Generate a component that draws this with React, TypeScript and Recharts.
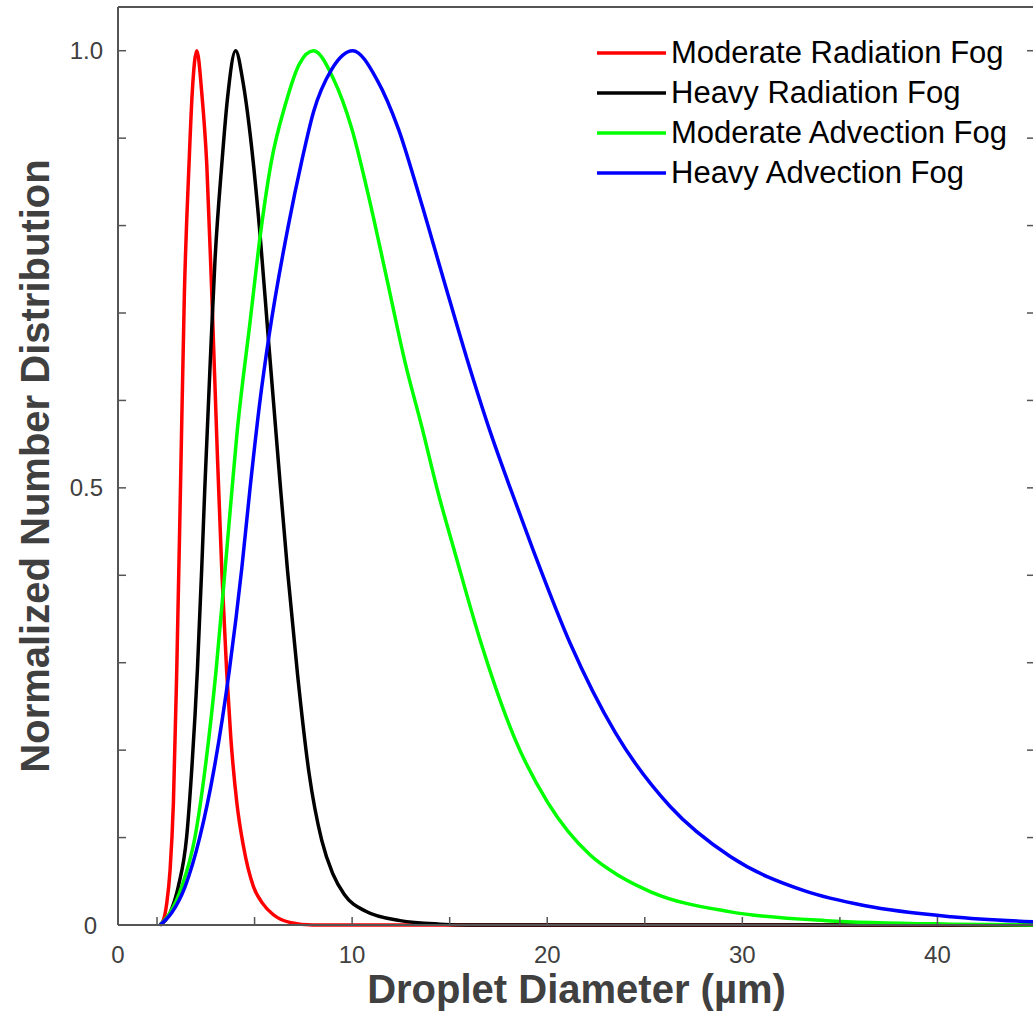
import React from 'react';
import { LineChart, Line, XAxis, YAxis } from 'recharts';

const FONT = '"Liberation Sans", Arial, Helvetica, sans-serif';
const AXIS = '#555555';
const TEXT = '#404040';

// [diameter (µm), normalized number]
const moderateRadiation: [number, number][] = [
  [0.15, 0], [0.3, 0.004], [0.5, 0.025], [0.67, 0.063], [0.84, 0.14], [1.01, 0.29],
  [1.22, 0.52], [1.4, 0.72], [1.64, 0.87], [1.8, 0.95], [2.04, 1.0], [2.3, 0.95],
  [2.55, 0.87], [2.81, 0.72], [3.09, 0.54], [3.33, 0.4], [3.57, 0.29], [3.78, 0.215],
  [4.09, 0.14], [4.43, 0.09], [4.94, 0.044], [5.4, 0.025], [5.95, 0.012], [6.8, 0.003],
  [8, 0], [45, 0],
];

const heavyRadiation: [number, number][] = [
  [0.15, 0], [0.67, 0.014], [1.09, 0.044], [1.52, 0.101], [1.78, 0.178], [2.07, 0.292],
  [2.29, 0.407], [2.45, 0.5], [2.72, 0.64], [2.97, 0.76], [3.32, 0.87], [3.61, 0.945],
  [4.03, 1.0], [4.4, 0.965], [4.77, 0.905], [5.28, 0.79], [5.69, 0.675], [6.0, 0.59],
  [6.31, 0.505], [6.69, 0.405], [7.21, 0.285], [7.79, 0.174], [8.44, 0.097], [9.0, 0.059],
  [9.6, 0.035], [10.67, 0.016], [12.46, 0.005], [14.5, 0.001], [16, 0], [45, 0],
];

const moderateAdvection: [number, number][] = [
  [0.15, 0], [0.67, 0.014], [1.27, 0.044], [1.95, 0.101], [2.46, 0.178], [3.03, 0.292],
  [3.49, 0.407], [3.85, 0.5], [4.09, 0.56], [4.77, 0.69], [5.3, 0.79], [5.85, 0.872],
  [6.56, 0.937], [7.3, 0.985], [8.02, 1.0], [9.04, 0.968], [9.98, 0.911], [10.84, 0.834],
  [11.78, 0.739], [12.72, 0.643], [13.57, 0.57], [14.4, 0.495], [15.28, 0.425], [16.56, 0.326],
  [18.36, 0.212], [20.03, 0.14], [22.2, 0.08], [23.7, 0.056], [25.3, 0.038], [29.4, 0.015],
  [34.3, 0.005], [40.7, 0.001], [45, 0],
];

const heavyAdvection: [number, number][] = [
  [0.15, 0], [0.75, 0.014], [1.44, 0.044], [2.2, 0.101], [2.92, 0.178], [3.71, 0.292],
  [4.34, 0.407], [4.77, 0.5], [5.28, 0.6], [5.75, 0.675], [6.73, 0.8], [7.42, 0.874],
  [8.02, 0.93], [8.96, 0.979], [10.03, 1.0], [11.27, 0.967], [12.38, 0.91], [13.4, 0.837],
  [14.68, 0.739], [15.88, 0.648], [17.08, 0.564], [18.0, 0.506], [19.26, 0.43], [21.18, 0.322],
  [23.49, 0.22], [26.3, 0.1355], [29.4, 0.078], [33.2, 0.039], [36.3, 0.022], [40.7, 0.0095],
  [45, 0.0035],
];

const series = [
  { name: 'Moderate Radiation Fog', color: '#ff0000', points: moderateRadiation },
  { name: 'Heavy Radiation Fog', color: '#000000', points: heavyRadiation },
  { name: 'Moderate Advection Fog', color: '#00ff00', points: moderateAdvection },
  { name: 'Heavy Advection Fog', color: '#0000ff', points: heavyAdvection },
];

const xTicks = [-2, 0, 5, 10, 15, 20, 25, 30, 35, 40];
const xLabelAt = [-2, 10, 20, 30, 40];
const xLabelText = ['0', '10', '20', '30', '40'];
const yTicks = [0, 0.1, 0.2, 0.3, 0.4, 0.5, 0.6, 0.7, 0.8, 0.9, 1.0];
const yLabelAt = [0, 0.5, 1.0];
const yLabelText = ['0', '0.5', '1.0'];

const toRows = (pts: [number, number][]) => pts.map(([d, n]) => ({ d, n }));

function BottomTick(props: any) {
  const { x, y, payload } = props;
  const v = payload.value;
  const i = xLabelAt.indexOf(v);
  return (
    <g>
      {v >= 0 && <line x1={x} x2={x} y1={y} y2={y - 8} stroke={AXIS} strokeWidth={1.5} />}
      {i >= 0 && (
        <text x={x} y={y + 38} textAnchor="middle" fontSize={24} fill={TEXT} fontFamily={FONT}>
          {xLabelText[i]}
        </text>
      )}
    </g>
  );
}

function TopTick(props: any) {
  const { x, y, payload } = props;
  if (payload.value < 0) return <g />;
  return <line x1={x} x2={x} y1={y} y2={y + 8} stroke={AXIS} strokeWidth={1.5} />;
}

function LeftTick(props: any) {
  const { x, y, payload } = props;
  const v = payload.value;
  const i = yLabelAt.indexOf(v);
  return (
    <g>
      {v > 0 && <line x1={x} x2={x + 8} y1={y} y2={y} stroke={AXIS} strokeWidth={1.5} />}
      {i >= 0 && (
        <text
          x={v === 0 ? x - 21 : x - 15}
          y={y + 8.5}
          textAnchor="end"
          fontSize={24}
          fill={TEXT}
          fontFamily={FONT}
        >
          {yLabelText[i]}
        </text>
      )}
    </g>
  );
}

function RightTick(props: any) {
  const { x, y, payload } = props;
  if (payload.value <= 0) return <g />;
  return <line x1={x} x2={x - 8} y1={y} y2={y} stroke={AXIS} strokeWidth={1.5} />;
}

function XTitle(props: any) {
  const vb = props.viewBox || { x: 118, y: 925, width: 917, height: 88 };
  const cx = vb.x + vb.width / 2;
  return (
    <text x={cx} y={1003} textAnchor="middle" fontSize={40} fontWeight="bold" fill={TEXT} fontFamily={FONT}>
      Droplet Diameter (µm)
    </text>
  );
}

function YTitle(props: any) {
  const vb = props.viewBox || { x: 0, y: 7, width: 118, height: 918 };
  const cy = vb.y + vb.height / 2;
  const cx = 49;
  return (
    <text
      x={cx}
      y={cy}
      transform={`rotate(-90 ${cx} ${cy})`}
      textAnchor="middle"
      fontSize={40}
      fontWeight="bold"
      fill={TEXT}
      fontFamily={FONT}
    >
      Normalized Number Distribution
    </text>
  );
}

function FogLegend() {
  return (
    <div style={{ position: 'absolute', left: 596, top: 32.5, fontFamily: FONT }}>
      {series.map((s) => (
        <div key={s.name} style={{ display: 'flex', alignItems: 'center', height: 40 }}>
          <svg width={70} height={40} style={{ display: 'block' }}>
            <line x1={1} x2={70} y1={20} y2={20} stroke={s.color} strokeWidth={3.5} />
          </svg>
          <span style={{ fontSize: 31, lineHeight: '40px', color: '#000', marginLeft: 5, whiteSpace: 'nowrap' }}>
            {s.name}
          </span>
        </div>
      ))}
    </div>
  );
}

export default function App() {
  return (
    <div
      style={{
        position: 'absolute',
        left: 0,
        top: 0,
        width: 1033,
        height: 1013,
        overflow: 'hidden',
        background: '#fff',
      }}
    >
      <LineChart width={1045} height={1013} margin={{ top: 0, right: 0, bottom: 0, left: 0 }}>
        <XAxis
          dataKey="d"
          type="number"
          domain={[-2, 45]}
          ticks={xTicks}
          interval={0}
          tickSize={0}
          tickMargin={0}
          tick={<BottomTick />}
          tickLine={false}
          height={88}
          axisLine={{ stroke: AXIS, strokeWidth: 2 }}
          label={<XTitle />}
        />
        <XAxis
          xAxisId="top"
          orientation="top"
          type="number"
          domain={[-2, 45]}
          allowDataOverflow
          ticks={xTicks}
          interval={0}
          tickSize={0}
          tickMargin={0}
          tick={<TopTick />}
          tickLine={false}
          height={7}
          axisLine={{ stroke: AXIS, strokeWidth: 2 }}
        />
        <YAxis
          type="number"
          domain={[0, 1.05]}
          ticks={yTicks}
          interval={0}
          tickSize={0}
          tickMargin={0}
          tick={<LeftTick />}
          tickLine={false}
          width={118}
          axisLine={{ stroke: AXIS, strokeWidth: 2 }}
          label={<YTitle />}
        />
        <YAxis
          yAxisId="right"
          orientation="right"
          type="number"
          domain={[0, 1.05]}
          allowDataOverflow
          ticks={yTicks}
          interval={0}
          tickSize={0}
          tickMargin={0}
          tick={<RightTick />}
          tickLine={false}
          width={10}
          axisLine={{ stroke: AXIS, strokeWidth: 2 }}
        />
        {series.map((s) => (
          <Line
            key={s.name}
            name={s.name}
            data={toRows(s.points)}
            dataKey="n"
            type="monotone"
            stroke={s.color}
            strokeWidth={3.5}
            dot={false}
            activeDot={false}
            isAnimationActive={false}
          />
        ))}
      </LineChart>
      <FogLegend />
    </div>
  );
}
